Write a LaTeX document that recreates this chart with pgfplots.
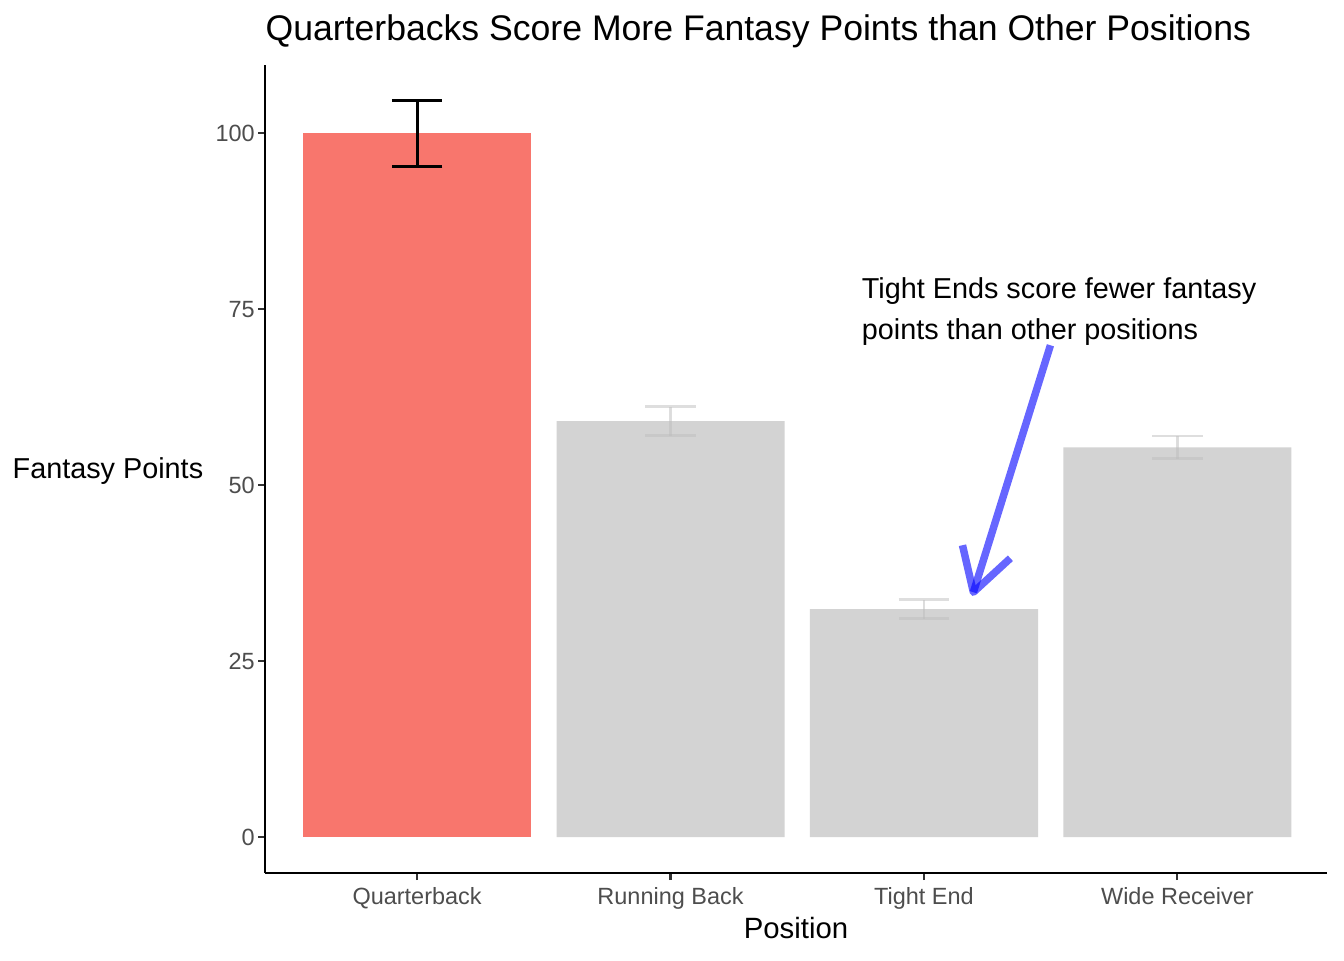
\documentclass[border=0pt]{standalone}
\usepackage{pgfplots}
\pgfplotsset{compat=1.18}
\usepackage{fontspec}
\setmainfont{Liberation Sans}
\definecolor{qbred}{HTML}{F8766D}
\definecolor{lgray}{HTML}{D3D3D3}
\definecolor{ebgray}{HTML}{BEBEBE}
\definecolor{gray30}{HTML}{4D4D4D}
\begin{document}
\begin{tikzpicture}
\useasboundingbox (-99.4pt,-32.6pt) rectangle (404.6pt,327.4pt);
\begin{axis}[
  scale only axis,
  width=398.2pt, height=303pt,
  at={(0,0)}, anchor=south west,
  xmin=-0.6, xmax=3.59,
  ymin=-5.1, ymax=109.7,
  axis x line=bottom, axis y line=left,
  axis line style={-, line width=0.8pt, black},
  xtick={0,1,2,3},
  xticklabels={Quarterback,Running Back,Tight End,Wide Receiver},
  ytick={0,25,50,75,100},
  tick align=outside,
  major tick length=2.6pt,
  tick style={line width=0.8pt, color=black!80},
  /pgf/number format/assume math mode=true,
  ticklabel style={font=\fontsize{8.8}{10}\selectfont, text=gray30},
  xticklabel style={anchor=north, inner sep=0pt, yshift=-2.6pt},
  yticklabel style={anchor=east, inner sep=0pt, xshift=-1.1pt},
  clip=false,
  ybar,
  bar width=0.9,
]
\addplot[fill=qbred, draw=none, bar shift=0pt,
  error bars/.cd, y dir=both, y explicit,
  error bar style={line width=1.1pt, black},
  error mark options={line width=1.1pt, black, mark size=9.5pt, rotate=90}]
  coordinates {(0,100) +- (0,4.7)};
\addplot[fill=lgray, draw=none, bar shift=0pt,
  error bars/.cd, y dir=both, y explicit,
  error bar style={line width=1.1pt, ebgray, opacity=0.5},
  error mark options={line width=1.1pt, ebgray, opacity=0.5, mark size=9.5pt, rotate=90}]
  coordinates {(1,59.1) +- (0,2.05) (2,32.4) +- (0,1.35) (3,55.4) +- (0,1.6)};
\draw[line width=2.8pt, blue, opacity=0.6, line cap=butt] (axis cs:2.499,69.89) -- (axis cs:2.195,34.80);
\draw[line width=2.8pt, blue, opacity=0.6, line cap=butt, line join=round] (axis cs:2.152,41.48) -- (axis cs:2.195,34.80) -- (axis cs:2.341,39.63);
\node[anchor=base west, inner sep=0pt, font=\fontsize{10.8}{13}\selectfont] at (axis cs:1.753,76.6) {Tight Ends score fewer fantasy};
\node[anchor=base west, inner sep=0pt, font=\fontsize{10.8}{13}\selectfont] at (axis cs:1.753,70.7) {points than other positions};
\node[anchor=base west, inner sep=0pt, font=\fontsize{13.35}{15}\selectfont] at (rel axis cs:0,1) [yshift=9.4pt] {Quarterbacks Score More Fantasy Points than Other Positions};
\node[anchor=base, inner sep=0pt, font=\fontsize{11}{13}\selectfont] at (rel axis cs:0.5,0) [yshift=-24.4pt] {Position};
\node[anchor=base east, inner sep=0pt, font=\fontsize{10.8}{13}\selectfont] at (rel axis cs:0,0.5) [xshift=-23pt, yshift=-3.4pt] {Fantasy Points};
\end{axis}
\end{tikzpicture}
\end{document}
